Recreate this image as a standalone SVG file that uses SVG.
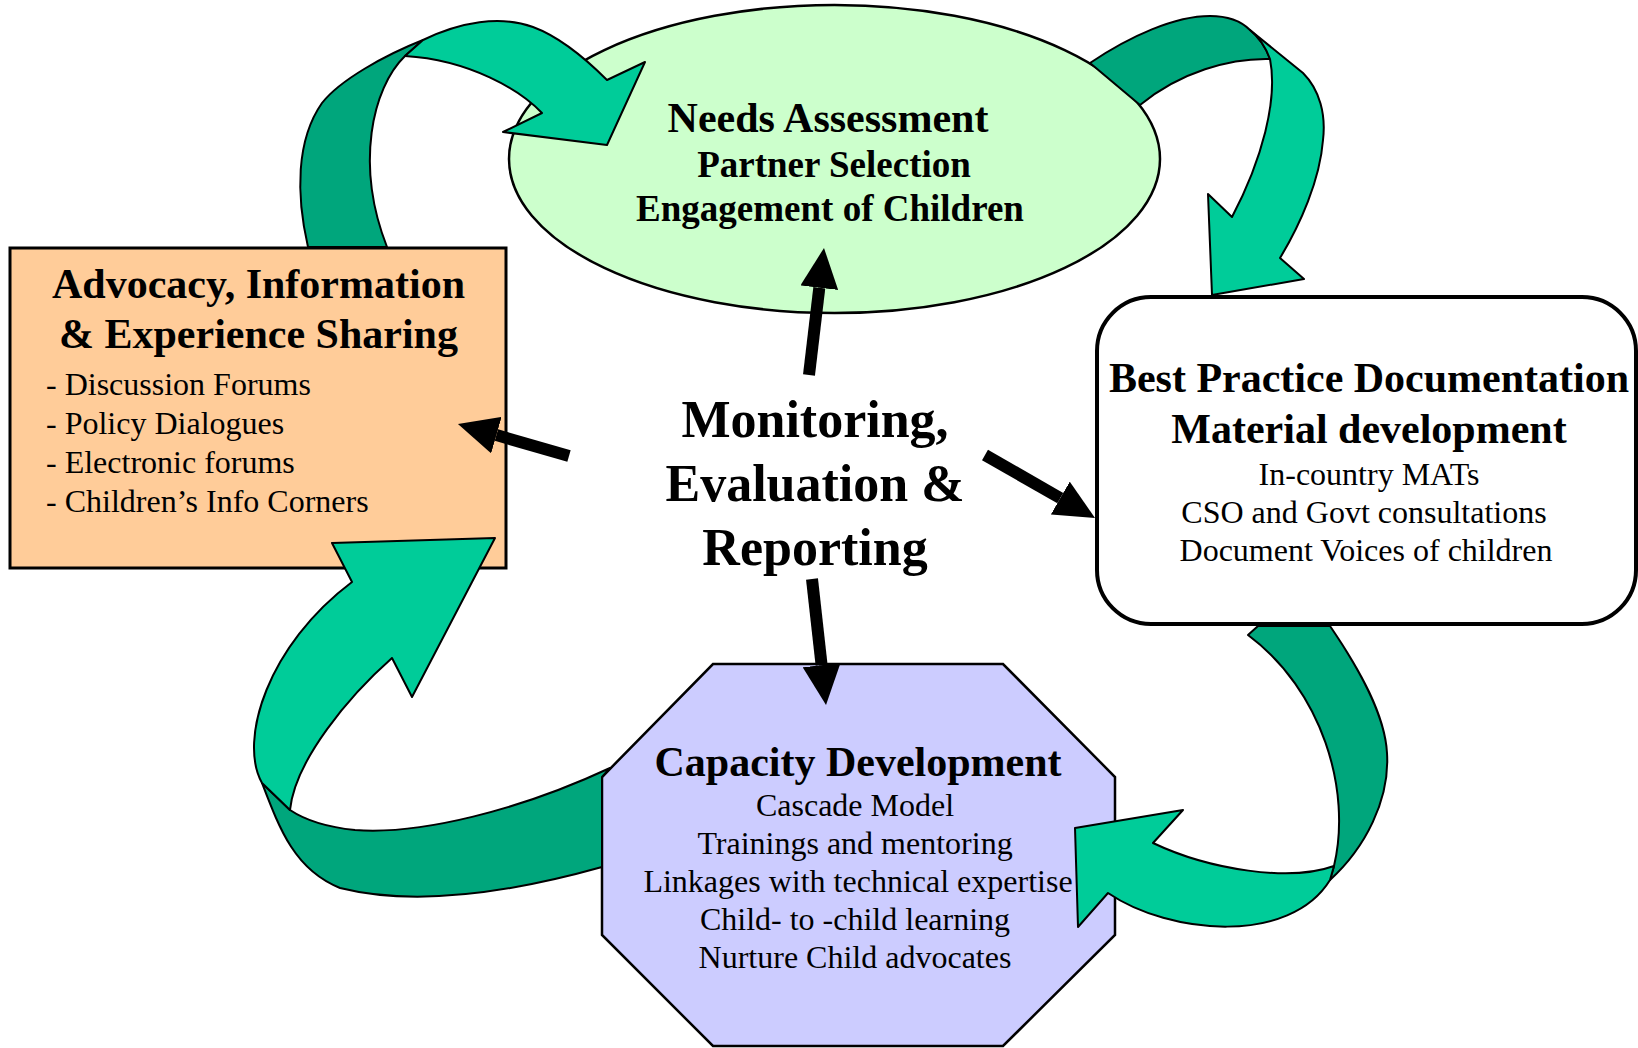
<svg xmlns="http://www.w3.org/2000/svg" width="1638" height="1048" viewBox="0 0 1638 1048">
<defs>
<style>
.t{font-family:"Liberation Serif","Times New Roman",serif;fill:#000}
.h1{font-size:42px;font-weight:bold}
.h2{font-size:37px;font-weight:bold}
.r{font-size:32px}
.bl{font-size:32px}
.c{font-size:52px;font-weight:bold}
.light{fill:#00CC99;stroke:#000;stroke-width:2;stroke-linejoin:round}
.dark{fill:#00A67C;stroke:#000;stroke-width:2;stroke-linejoin:round}
.blk{stroke:#000;stroke-width:12;fill:none;marker-end:url(#ah)}
</style>
<marker id="ah" markerUnits="userSpaceOnUse" markerWidth="40" markerHeight="38" viewBox="0 0 40 38" refX="0" refY="19" orient="auto">
<path d="M0,0 L40,19 L0,38 Z" fill="#000"/>
</marker>
</defs>
<rect width="1638" height="1048" fill="#fff"/>

<g id="node-needs">
<ellipse cx="834.5" cy="159" rx="325.5" ry="154" fill="#CCFFCC" stroke="#000" stroke-width="2.5"/>
<text class="t h1" x="828" y="132" text-anchor="middle">Needs Assessment</text>
<text class="t h2" x="834" y="177" text-anchor="middle">Partner Selection</text>
<text class="t h2" x="830" y="221" text-anchor="middle">Engagement of Children</text>
</g>

<g id="node-advocacy">
<rect x="10" y="248" width="496" height="320" fill="#FFCC99" stroke="#000" stroke-width="3"/>
<text class="t h1" x="258.5" y="298" text-anchor="middle">Advocacy, Information</text>
<text class="t h1" x="258.5" y="348" text-anchor="middle">&amp; Experience Sharing</text>
<text class="t bl" x="46" y="395">- Discussion Forums</text>
<text class="t bl" x="46" y="434">- Policy Dialogues</text>
<text class="t bl" x="46" y="473">- Electronic forums</text>
<text class="t bl" x="46" y="512">- Children’s Info Corners</text>
</g>

<g id="node-bestpractice">
<rect x="1097" y="297" width="539" height="327" rx="54" ry="54" fill="#fff" stroke="#000" stroke-width="4"/>
<text class="t h1" x="1369" y="392" text-anchor="middle">Best Practice Documentation</text>
<text class="t h1" x="1369" y="443" text-anchor="middle">Material development</text>
<text class="t r" x="1369" y="485" text-anchor="middle">In-country MATs</text>
<text class="t r" x="1364" y="523" text-anchor="middle">CSO and Govt consultations</text>
<text class="t r" x="1366" y="561" text-anchor="middle">Document Voices of children</text>
</g>

<g id="node-capacity">
<polygon points="713,664 1003,664 1115,777 1115,935 1003,1046 713,1046 602,935 602,777" fill="#CCCCFF" stroke="#000" stroke-width="2.5"/>
<text class="t h1" x="858" y="776" text-anchor="middle">Capacity Development</text>
<text class="t r" x="855" y="816" text-anchor="middle">Cascade Model</text>
<text class="t r" x="855" y="854" text-anchor="middle">Trainings and mentoring</text>
<text class="t r" x="858" y="892" text-anchor="middle">Linkages with technical expertise</text>
<text class="t r" x="855" y="930" text-anchor="middle">Child- to -child learning</text>
<text class="t r" x="855" y="968" text-anchor="middle">Nurture Child advocates</text>
</g>

<g id="node-mer">
<text class="t c" x="815" y="437" text-anchor="middle">Monitoring,</text>
<text class="t c" x="815" y="501" text-anchor="middle">Evaluation &amp;</text>
<text class="t c" x="815" y="565" text-anchor="middle">Reporting</text>
</g>

<g id="connectors">
<path class="dark" d="M308,247 C296,195 296,140 322,103 C340,80 385,55 423,40 L405,56 C372,88 355,165 387,247 Z"/>
<path class="light" d="M405,56 L423,40 C460,22 500,15 533,27 C560,37 585,58 607,80 L645,62 L607,145 L503,132 L542,113 C520,90 470,60 405,56 Z"/>
<path class="dark" d="M1090,63 C1130,36 1175,16 1210,16 C1228,16 1242,22 1250,30 C1260,38 1266,48 1270,59 C1230,58 1180,72 1140,105 Z"/>
<path class="light" d="M1250,30 L1303,73 C1320,90 1326,115 1323,140 C1320,180 1300,225 1280,258 L1304,279 L1212,295 L1208,194 L1232,217 C1262,160 1278,100 1270,59 C1266,48 1260,38 1250,30 Z"/>
<path class="dark" d="M1248,635 L1258,626 L1330,626 C1360,670 1385,715 1387,753 C1390,800 1365,848 1330,880 L1334,866 C1352,790 1322,690 1248,635 Z"/>
<path class="light" d="M1334,866 C1290,882 1210,870 1153,843 L1183,810 L1075,828 L1078,927 L1108,893 C1170,935 1290,945 1330,880 Z"/>
<path class="dark" d="M262,783 C280,830 295,870 340,888 C420,908 520,890 602,867 L602,777 L610,768 C520,810 420,835 355,830 C325,827 305,820 290,810 Z"/>
<path class="light" d="M352,582 L332,543 L495,538 L412,697 L392,658 C350,695 295,760 290,810 L262,783 C238,740 268,645 352,582 Z"/>
<line class="blk" x1="809" y1="375" x2="819.3" y2="287.7"/>
<line class="blk" x1="569" y1="456" x2="496.4" y2="435.1"/>
<line class="blk" x1="985" y1="455" x2="1060.3" y2="498.1"/>
<line class="blk" x1="812" y1="579" x2="821.6" y2="665.2"/>
</g>
</svg>
